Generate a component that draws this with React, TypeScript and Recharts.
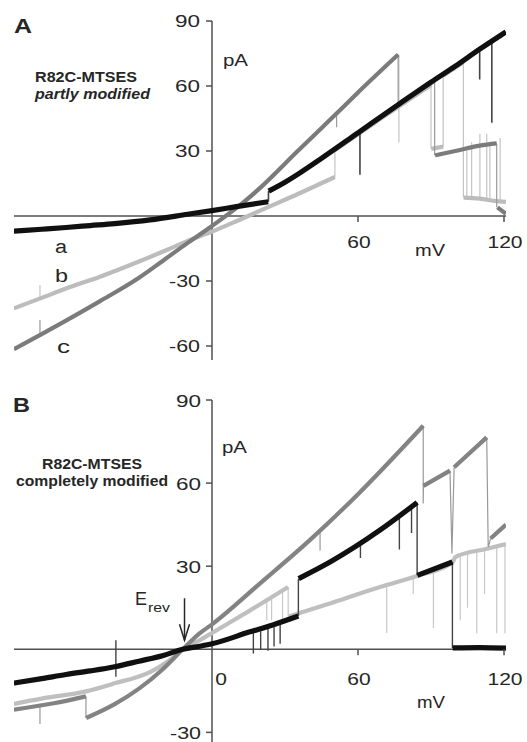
import React from "react";
import { LineChart, Line, XAxis, YAxis, ReferenceLine, ReferenceDot } from "recharts";

type Pt = [number, number | null];

// ---- panel A (partly modified): mV vs pA ----
const A_X_DOMAIN = [-81.37, 120.82];
const A_Y_DOMAIN = [-66.46, 90];
const A_Y_TICKS = [90, 60, 30, -30, -60];
const A_X_TICKS = [60, 120];

// trace a (black)
const A_BLACK: Pt[] = [
  [-81.4, -7], [-70, -6.1], [-60, -5.3], [-50, -4.4], [-40, -3.5], [-25.5, -1.8], [-10, 0.8],
  [0, 2.5], [10, 4.3], [23.1, 6.6], [23.1, null],
  [23.3, 11.5], [30, 15.6], [36, 19.8], [45, 26.6], [60, 38.4], [77.3, 52], [90, 61.8], [100, 69.2],
  [110, 77], [120.8, 85],
];
const A_BLACK_JUMPS: Pt[] = [
  [23.2, 6.6], [23.2, 11.5], [23.2, null],
  [110, 77], [110, 63], [110, null],
  [115, 80.5], [115, 43], [115, null],
  [60.8, 39], [60.8, 19], [60.8, null],
];

// trace b (light grey)
const A_LIGHT: Pt[] = [
  [-81.4, -42.6], [-70, -37.8], [-60, -33.5], [-46, -28], [-30, -21], [-18.6, -15.7], [-10, -11.5],
  [0, -7.2], [10, -2.4], [20, 2.6], [36, 10.5], [50.5, 18], [50.5, null],
  [50.6, 30.5], [70, 45.5], [90, 60.5], [90, null],
  [90.1, 31], [95, 32], [95, null],
  [95.1, 64.8], [103.3, 71], [103.3, null],
  [103.4, 8.5], [110, 8], [116, 7], [120.8, 6.5],
];
const A_LIGHT_JUMPS: Pt[] = [
  [50.5, 18], [50.5, 30.5], [50.5, null],
  [90, 60.5], [90, 31], [90, null],
  [95, 32], [95, 64.8], [95, null],
  [103.3, 71], [103.3, 8.5], [103.3, null],
  [104.7, 8.4], [104.7, 30], [104.7, null],
  [106.7, 8.2], [106.7, 34], [106.7, null],
  [110.1, 8], [110.1, 38], [110.1, null],
  [112.9, 7.6], [112.9, 38], [112.9, null],
  [114.2, 7.4], [114.2, 34], [114.2, null],
  [118.4, 6.8], [118.4, 36], [118.4, null],
  [-70.7, -37.5], [-70.7, -31.8], [-70.7, null],
  [76.8, 74], [76.8, 34], [76.8, null],
];

// trace c (dark grey)
const A_DARK: Pt[] = [
  [-81.4, -61.5], [-70, -54.5], [-60, -48.3], [-46, -39.3], [-30, -28.5], [-20, -20.5], [-10, -12.4],
  [0, -4.6], [11.5, 5], [20, 13.2], [34.8, 29.5], [50, 46], [60, 57], [76.5, 74.5], [76.5, null],
  [76.7, 51.5], [91.5, 62.5], [91.5, null],
  [91.7, 28], [100, 30], [110, 32.5], [117, 33.5], [117, null],
  [117.3, 4], [120.8, 1],
];
const A_DARK_JUMPS: Pt[] = [
  [76.5, 74.5], [76.5, 51.5], [76.5, null],
  [91.5, 62.5], [91.5, 28], [91.5, null],
  [117, 33.5], [117, 4], [117, null],
  [51.2, 47.5], [51.2, 41], [51.2, null],
  [-70.7, -54], [-70.7, -48], [-70.7, null],
];

// ---- panel B (completely modified) ----
const B_X_DOMAIN = [-81.37, 120.82];
const B_Y_DOMAIN = [-33.47, 90];
const B_Y_TICKS = [90, 60, 30, -30];
const B_X_TICKS = [0, 60, 120];
const E_REV = -11.3;

const B_BLACK: Pt[] = [
  [-81.4, -12.2], [-70, -10.6], [-60, -9.1], [-50, -7.8], [-40, -6.3], [-30, -4.3], [-20, -2.2],
  [-12, 0], [-5, 1.1], [0, 2], [15.6, 6.3], [25, 8.8], [35.5, 12], [35.5, null],
  [35.6, 25.5], [48.5, 31.5], [69, 43], [84.3, 53], [84.3, null],
  [84.4, 26.7], [98.8, 31.5], [98.8, null],
  [98.9, 0.5], [110, 0.6], [120.8, 0.4],
];
const B_BLACK_JUMPS: Pt[] = [
  [35.5, 12], [35.5, 25.5], [35.5, null],
  [84.3, 53], [84.3, 26.7], [84.3, null],
  [98.8, 31.5], [98.8, 0.5], [98.8, null],
  [-39.5, 3.3], [-39.5, -9.9], [-39.5, null],
  [17, 5.8], [17, -1.5], [17, null],
  [20, 6.5], [20, 0], [20, null],
  [23, 7.3], [23, -0.5], [23, null],
  [25.5, 8], [25.5, 1], [25.5, null],
  [28, 9], [28, 2], [28, null],
  [61, 39], [61, 33], [61, null],
  [77, 48], [77, 36], [77, null],
  [82, 51.5], [82, 42], [82, null],
];

const B_LIGHT: Pt[] = [
  [-81.4, -19.7], [-70, -17.8], [-51.8, -15.2], [-40, -12.3], [-25.5, -8.2], [-18, -4.3], [-12, 0],
  [-5, 3.3], [0, 5.9], [15, 13.7], [31.3, 22.5], [31.3, null],
  [31.5, 11.8], [50, 17], [69, 22.5], [84.3, 26.5], [98.8, 31.3], [100, 33.3], [113, 36.3], [120.8, 38],
];
const B_LIGHT_JUMPS: Pt[] = [
  [31.3, 22.5], [31.3, 11.8], [31.3, null],
  [22.5, 17.8], [22.5, 10.5], [22.5, null],
  [24.5, 18.8], [24.5, 10.5], [24.5, null],
  [29, 21], [29, 10], [29, null],
  [71.8, 23], [71.8, 5.9], [71.8, null],
  [82.7, 26], [82.7, 20], [82.7, null],
  [91, 29], [91, 7.7], [91, null],
  [102, 34], [102, 10.5], [102, null],
  [105, 35], [105, 15], [105, null],
  [108.8, 35.5], [108.8, 5.8], [108.8, null],
  [112, 36], [112, 20], [112, null],
  [117, 37], [117, 5.8], [117, null],
  [120.4, 38], [120.4, 5.8], [120.4, null],
];

const B_MID: Pt[] = [
  [-81.4, -21.8], [-65, -19.5], [-51.8, -17], [-51.8, null],
  [-51.7, -24.8], [-40, -19.8], [-30, -14.2], [-20, -7], [-12, 0], [-5, 5.8], [0, 9], [20, 24],
  [40.3, 39.5], [60, 56], [86.8, 80.7], [86.8, null],
  [86.9, 59], [97.8, 64.5], [97.8, null],
  [99.5, 65.7], [112.9, 76.5], [112.9, null],
  [114.5, 40], [120.8, 45],
];
const B_MID_JUMPS: Pt[] = [
  [-51.8, -17], [-51.8, -24.8], [-51.8, null],
  [86.8, 80.7], [86.8, 52.6], [86.9, 59], [86.9, null],
  [97.8, 64.5], [98.6, 34.6], [99.5, 65.7], [99.5, null],
  [112.9, 76.5], [113.5, 36.9], [114.5, 40], [114.5, null],
  [-70.7, -20.5], [-70.7, -27], [-70.7, null],
  [44.4, 43], [44.4, 35.7], [44.4, null],
];

const AXIS = "#505050";
const INK = "#262626";
const FONT = "'Liberation Sans', Arial, sans-serif";

const rows = (pts: Pt[]) => pts.map(([x, y]) => ({ x, y }));

function T(props: {
  x: number;
  y: number;
  w?: number;
  size?: number;
  bold?: boolean;
  italic?: boolean;
  anchor?: "start" | "middle" | "end";
  children: React.ReactNode;
}) {
  const { x, y, w, size = 17, bold, italic, anchor = "start", children } = props;
  return (
    <text
      x={x}
      y={y}
      fontSize={size}
      fontFamily={FONT}
      fontWeight={bold ? "bold" : "normal"}
      fontStyle={italic ? "italic" : "normal"}
      textAnchor={anchor}
      textLength={w}
      lengthAdjust="spacingAndGlyphs"
      fill={INK}
    >
      {children}
    </text>
  );
}

const pos = (p: any) => {
  const vb = p.viewBox ?? {};
  return { x: (vb.x ?? 0) + (vb.width ?? 0) / 2, y: (vb.y ?? 0) + (vb.height ?? 0) / 2 };
};

const yTick = (v: number, gap: number, dy: number) => (p: any) => {
  const { x, y } = pos(p);
  const s = String(v);
  return (
    <g>
      <line x1={x - 6} y1={y} x2={x} y2={y} stroke={AXIS} strokeWidth={1.5} />
      <T x={x - gap} y={y + dy} w={s.length > 2 ? 31 : 25} anchor="end">
        {s}
      </T>
    </g>
  );
};

const xTick = (v: number, dy: number, dx: number, mark: boolean) => (p: any) => {
  const { x, y } = pos(p);
  const s = String(v);
  return (
    <g>
      {mark && <line x1={x} y1={y} x2={x} y2={y + 6} stroke={AXIS} strokeWidth={1.5} />}
      <T x={x + dx} y={y + dy} w={s.length * 11.7} anchor="middle">
        {s}
      </T>
    </g>
  );
};

const erevLabel = (p: any) => {
  const { x, y } = pos(p);
  return (
    <g>
      <T x={x - 49.5} y={y - 44} w={12} size={18}>
        E
      </T>
      <T x={x - 36.5} y={y - 37} w={22} size={13}>
        rev
      </T>
      <line x1={x} y1={y - 51} x2={x} y2={y - 9} stroke={INK} strokeWidth={1.5} />
      <polyline
        points={`${x - 5},${y - 25} ${x},${y - 9} ${x + 5},${y - 25}`}
        fill="none"
        stroke={INK}
        strokeWidth={1.5}
      />
    </g>
  );
};

// thin linear line, used for fast transitions and spikes
function jumps(key: string, pts: Pt[], color: string, width: number) {
  return (
    <Line
      key={key}
      data={rows(pts)}
      dataKey="y"
      type="linear"
      stroke={color}
      strokeWidth={width}
      dot={false}
      activeDot={false}
      connectNulls={false}
      isAnimationActive={false}
    />
  );
}

// the recorded current trace itself
function trace(key: string, pts: Pt[], color: string, width: number) {
  return (
    <Line
      key={key}
      data={rows(pts)}
      dataKey="y"
      type="monotoneX"
      stroke={color}
      strokeWidth={width}
      dot={false}
      activeDot={false}
      connectNulls={false}
      isAnimationActive={false}
    />
  );
}

function PanelA() {
  return (
    <LineChart width={527} height={370} margin={{ top: 21, right: 21, bottom: 10, left: 14 }}>
      <XAxis type="number" dataKey="x" domain={A_X_DOMAIN} allowDataOverflow hide />
      <YAxis type="number" domain={A_Y_DOMAIN} allowDataOverflow hide />
      <ReferenceLine x={0} stroke={AXIS} strokeWidth={1.5} />
      <ReferenceLine y={0} stroke={AXIS} strokeWidth={1.5} />
      {A_Y_TICKS.map((v) => (
        <ReferenceDot key={"y" + v} x={0} y={v} r={0} fill="none" stroke="none" label={yTick(v, 12, 6)} />
      ))}
      {A_X_TICKS.map((v) => (
        <ReferenceDot key={"x" + v} x={v} y={0} r={0} fill="none" stroke="none" label={xTick(v, 32, 1, true)} />
      ))}
      {jumps("bl", A_LIGHT_JUMPS, "#c4c4c4", 1.2)}
      {trace("b", A_LIGHT, "#bcbcbc", 4.2)}
      {jumps("cj", A_DARK_JUMPS, "#9a9a9a", 1.2)}
      {trace("c", A_DARK, "#7b7b7b", 4.2)}
      {jumps("aj", A_BLACK_JUMPS, "#444", 1.6)}
      {trace("a", A_BLACK, "#101010", 5.2)}
      <T x={14} y={33} w={18} size={21} bold>
        A
      </T>
      <T x={35} y={82} w={102} size={15} bold>
        R82C-MTSES
      </T>
      <T x={35} y={99} w={115} size={15} bold italic>
        partly modified
      </T>
      <T x={223} y={66} w={25}>
        pA
      </T>
      <T x={415} y={256} w={30}>
        mV
      </T>
      <T x={55} y={253} w={12} size={18}>
        a
      </T>
      <T x={55} y={282} w={13} size={18}>
        b
      </T>
      <T x={57} y={353} w={13} size={18}>
        c
      </T>
    </LineChart>
  );
}

function PanelB() {
  return (
    <LineChart width={527} height={372} margin={{ top: 30, right: 21, bottom: 0, left: 14 }}>
      <XAxis type="number" dataKey="x" domain={B_X_DOMAIN} allowDataOverflow hide />
      <YAxis type="number" domain={B_Y_DOMAIN} allowDataOverflow hide />
      <ReferenceLine x={0} stroke={AXIS} strokeWidth={1.5} />
      <ReferenceLine y={0} stroke={AXIS} strokeWidth={1.5} />
      {B_Y_TICKS.map((v) => (
        <ReferenceDot key={"y" + v} x={0} y={v} r={0} fill="none" stroke="none" label={yTick(v, 11, 7)} />
      ))}
      {B_X_TICKS.map((v) => (
        <ReferenceDot
          key={"x" + v}
          x={v}
          y={0}
          r={0}
          fill="none"
          stroke="none"
          label={xTick(v, 36, v === 0 ? 9 : 1, v !== 0)}
        />
      ))}
      {jumps("lj", B_LIGHT_JUMPS, "#c8c8c8", 1.2)}
      {trace("l", B_LIGHT, "#bfbfbf", 4.2)}
      {jumps("mj", B_MID_JUMPS, "#999", 1.2)}
      {trace("m", B_MID, "#838383", 4.2)}
      {jumps("kj", B_BLACK_JUMPS, "#444", 1.4)}
      {trace("k", B_BLACK, "#101010", 5.2)}
      <ReferenceDot x={E_REV} y={0} r={0} fill="none" stroke="none" label={erevLabel} />
      <T x={13} y={42} w={17} size={21} bold>
        B
      </T>
      <T x={222} y={83} w={25}>
        pA
      </T>
      <T x={42} y={99} w={100} size={15} bold>
        R82C-MTSES
      </T>
      <T x={16} y={116} w={152} size={15} bold>
        completely modified
      </T>
      <T x={417} y={338} w={28}>
        mV
      </T>
    </LineChart>
  );
}

export default function App() {
  return (
    <div style={{ position: "absolute", left: 0, top: 0, width: 527, height: 742, background: "#fff" }}>
      <PanelA />
      <PanelB />
    </div>
  );
}
